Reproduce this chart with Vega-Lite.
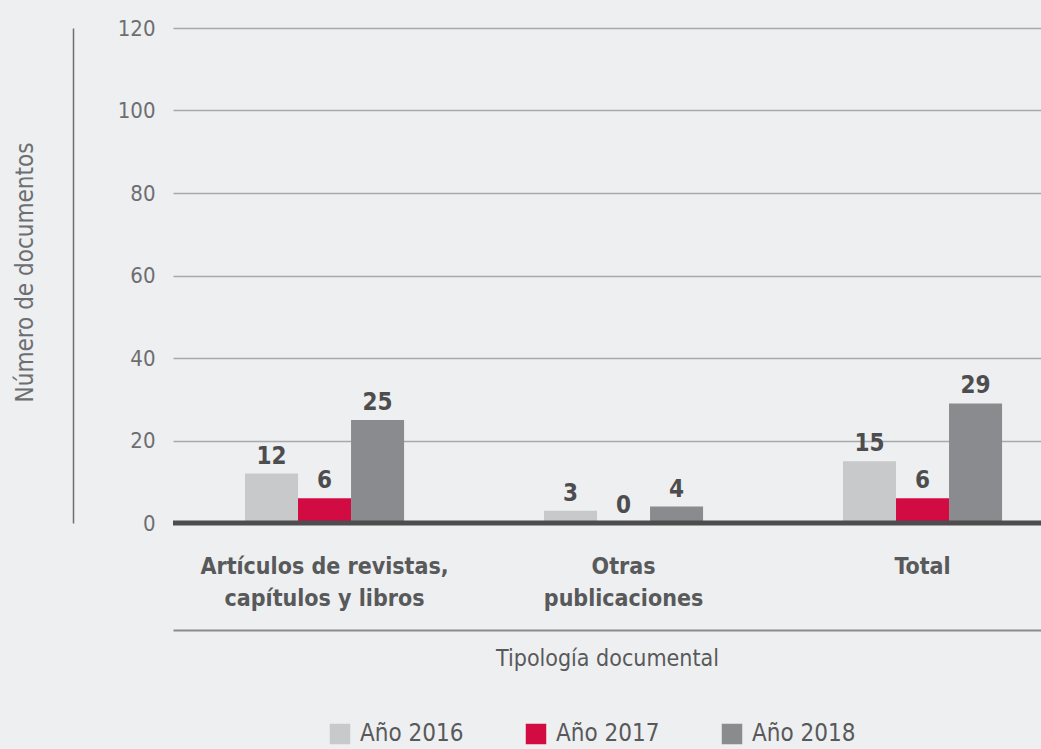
{
  "$schema": "https://vega.github.io/schema/vega-lite/v6.json",
  "width": 868,
  "height": 495,
  "autosize": "none",
  "padding": {"left": 173, "top": 28, "right": 0, "bottom": 226},
  "background": "#eeeff0",
  "data": {
    "values": [
      {"tipo": "Artículos de revistas, capítulos y libros", "anio": "Año 2016", "n": 12},
      {"tipo": "Artículos de revistas, capítulos y libros", "anio": "Año 2017", "n": 6},
      {"tipo": "Artículos de revistas, capítulos y libros", "anio": "Año 2018", "n": 25},
      {"tipo": "Otras publicaciones", "anio": "Año 2016", "n": 3},
      {"tipo": "Otras publicaciones", "anio": "Año 2017", "n": 0},
      {"tipo": "Otras publicaciones", "anio": "Año 2018", "n": 4},
      {"tipo": "Total", "anio": "Año 2016", "n": 15},
      {"tipo": "Total", "anio": "Año 2017", "n": 6},
      {"tipo": "Total", "anio": "Año 2018", "n": 29}
    ]
  },
  "encoding": {
    "x": {
      "field": "tipo",
      "type": "nominal",
      "sort": null,
      "scale": {"paddingInner": 0.468, "paddingOuter": 0.1855, "align": 0.649},
      "axis": {
        "title": "Tipología documental",
        "labelAngle": 0,
        "offset": 107,
        "domainColor": "#8a8b8d",
        "domainWidth": 2,
        "ticks": false,
        "tickSize": 0,
        "labelPadding": -75,
        "labelBaseline": "top",
        "labelLimit": 0,
        "labelFont": "DejaVu Sans Condensed, Roboto, sans-serif",
        "labelFontWeight": "bold",
        "labelFontSize": 23,
        "labelColor": "#58595b",
        "labelLineHeight": 32,
        "labelExpr": "datum.label == 'Artículos de revistas, capítulos y libros' ? ['Artículos de revistas,', 'capítulos y libros'] : datum.label == 'Otras publicaciones' ? ['Otras', 'publicaciones'] : datum.label",
        "titleFont": "DejaVu Sans Condensed, Roboto, sans-serif",
        "titleFontWeight": "normal",
        "titleFontSize": 23,
        "titleColor": "#58595b",
        "titleY": 28,
        "titleBaseline": "middle"
      }
    },
    "xOffset": {"field": "anio", "type": "nominal", "scale": {"paddingInner": 0, "paddingOuter": 0}},
    "y": {
      "field": "n",
      "type": "quantitative",
      "scale": {"domain": [0, 120]},
      "axis": {
        "title": "Número de documentos",
        "values": [0, 20, 40, 60, 80, 100, 120],
        "offset": 100,
        "domainColor": "#6d6e71",
        "domainWidth": 1.5,
        "ticks": false,
        "tickSize": 0,
        "labelPadding": -82,
        "labelFont": "DejaVu Sans Condensed, Roboto, sans-serif",
        "labelFontSize": 22,
        "labelColor": "#6d6e71",
        "grid": true,
        "gridColor": "#a7a9ac",
        "gridWidth": 1.5,
        "titleFont": "DejaVu Sans Condensed, Roboto, sans-serif",
        "titleFontWeight": "normal",
        "titleFontSize": 24,
        "titleColor": "#6d6e71",
        "titleX": -48,
        "titleY": 244,
        "titleAngle": -90,
        "titleAlign": "center",
        "titleBaseline": "middle"
      }
    }
  },
  "layer": [
    {
      "mark": {"type": "bar"},
      "encoding": {
        "color": {
          "field": "anio",
          "type": "nominal",
          "scale": {"domain": ["Año 2016", "Año 2017", "Año 2018"], "range": ["#c8c9cb", "#d30b43", "#8a8b8e"]},
          "legend": {
            "title": null,
            "orient": "none",
            "direction": "horizontal",
            "legendX": 155,
            "legendY": 694,
            "symbolType": "square",
            "symbolSize": 420,
            "symbolStrokeWidth": 0,
            "symbolOpacity": 1,
            "labelFont": "DejaVu Sans Condensed, Roboto, sans-serif",
            "labelFontSize": 24,
            "labelColor": "#58595b",
            "labelOffset": 8,
            "labelLimit": 0,
            "columnPadding": 60
          }
        }
      }
    },
    {
      "mark": {"type": "text", "baseline": "bottom", "dy": -5, "font": "DejaVu Sans Condensed, Roboto, sans-serif", "fontWeight": "bold", "fontSize": 24, "color": "#4d4d4f"},
      "encoding": {"text": {"field": "n", "type": "quantitative"}}
    },
    {
      "data": {"values": [{"base": 0}]},
      "mark": {"type": "rule", "color": "#4d4d4f", "strokeWidth": 5},
      "encoding": {"y": {"field": "base", "type": "quantitative"}, "x": null, "xOffset": null}
    }
  ],
  "config": {"view": {"stroke": null}}
}
